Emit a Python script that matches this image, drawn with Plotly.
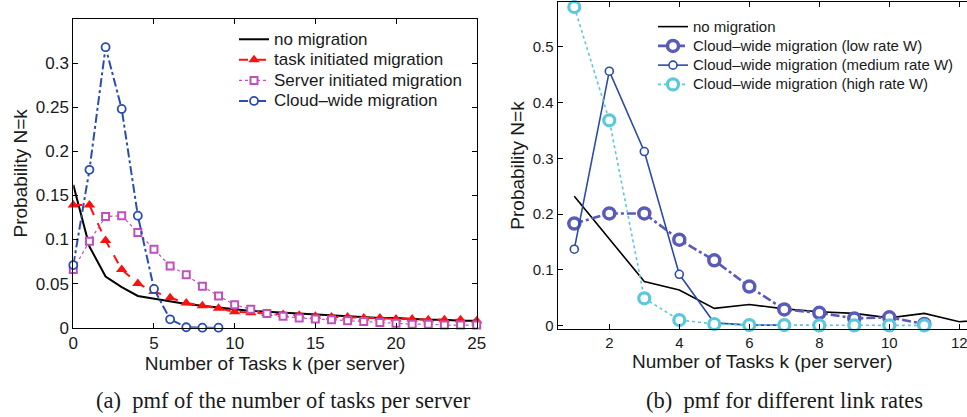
import plotly.graph_objects as go

# (a) pmf of the number of tasks per server
K_A = list(range(0, 26))
NO_MIG_A = [0.162, 0.092, 0.058, 0.046, 0.036, 0.033, 0.030, 0.027, 0.025, 0.023,
            0.021, 0.019, 0.018, 0.017, 0.016, 0.015, 0.014, 0.013, 0.012, 0.011,
            0.011, 0.010, 0.009, 0.009, 0.008, 0.008]
TASK_MIG = [0.139, 0.139, 0.099, 0.066, 0.050, 0.041, 0.034, 0.028, 0.025, 0.022,
            0.018, 0.017, 0.016, 0.015, 0.014, 0.013, 0.012, 0.012, 0.011, 0.011,
            0.010, 0.010, 0.009, 0.009, 0.009, 0.008]
SERVER_MIG = [0.066, 0.098, 0.126, 0.127, 0.108, 0.089, 0.070, 0.060, 0.047, 0.036,
              0.026, 0.021, 0.016, 0.013, 0.011, 0.010, 0.009, 0.008, 0.007, 0.006,
              0.005, 0.004, 0.004, 0.003, 0.003, 0.003]
K_CLOUD = list(range(0, 10))
CLOUD_MIG = [0.071, 0.179, 0.318, 0.248, 0.127, 0.044, 0.0095, 0.0005, 0.0, 0.0]

# (b) pmf for different link rates
K_B = list(range(1, 14))
NO_MIG_B = [0.232, 0.155, 0.079, 0.064, 0.031, 0.038, 0.030, 0.025, 0.022, 0.014,
            0.022, 0.007, 0.012]
K_LOW = list(range(1, 12))
LOW_W = [0.183, 0.201, 0.201, 0.154, 0.117, 0.070, 0.029, 0.023, 0.013, 0.015, 0.003]
K_MED = list(range(1, 8))
MED_W = [0.137, 0.456, 0.312, 0.092, 0.005, 0.001, 0.001]
K_HIGH = list(range(1, 12))
HIGH_W = [0.571, 0.368, 0.049, 0.010, 0.003, 0.001, 0.001, 0.0005, 0.0005, 0.0005, 0.0005]

W, H = 967, 417
FONT = 'Liberation Sans'


def px_x(p):
    return p / W


def px_y(p):
    return (H - p) / H


def lg(text, size):
    # legend rows are packed tighter than plotly's default, so the legend font is
    # small and the visible text is enlarged here
    return f'<span style="font-size:{size}px">{text}</span>'


fig = go.Figure()

# --- left plot ---
fig.add_trace(go.Scatter(x=K_A, y=NO_MIG_A, name=lg('no migration', 17), mode='lines',
                         line=dict(color='black', width=2), legend='legend'))
fig.add_trace(go.Scatter(x=K_A, y=TASK_MIG, name=lg('task initiated migration', 17),
                         mode='lines+markers',
                         line=dict(color='#ff1010', width=2, dash='dash'),
                         marker=dict(symbol='triangle-up', size=10, color='#ff1010'),
                         legend='legend'))
fig.add_trace(go.Scatter(x=K_A, y=SERVER_MIG, name=lg('Server initiated migration', 17),
                         mode='lines+markers',
                         line=dict(color='#c050c0', width=1.2, dash='dot'),
                         marker=dict(symbol='square', size=7, color='white',
                                     line=dict(color='#c050c0', width=2)),
                         legend='legend'))
fig.add_trace(go.Scatter(x=K_CLOUD, y=CLOUD_MIG, name=lg('Cloud\u2013wide migration', 17),
                         mode='lines+markers',
                         line=dict(color='#2a4db0', width=2, dash='dashdot'),
                         marker=dict(symbol='circle', size=8, color='white',
                                     line=dict(color='#2a4db0', width=1.8)),
                         legend='legend'))

# --- right plot ---
fig.add_trace(go.Scatter(x=K_B, y=NO_MIG_B, name=lg('no migration', 15), mode='lines',
                         line=dict(color='black', width=1.6),
                         xaxis='x2', yaxis='y2', legend='legend2'))
fig.add_trace(go.Scatter(x=K_LOW, y=LOW_W, name=lg('Cloud\u2013wide migration (low rate W)', 15),
                         mode='lines+markers',
                         line=dict(color='#5a5ab8', width=2.6, dash='dashdot'),
                         marker=dict(symbol='circle', size=11, color='white',
                                     line=dict(color='#5a5ab8', width=3.5)),
                         xaxis='x2', yaxis='y2', legend='legend2'))
fig.add_trace(go.Scatter(x=K_MED, y=MED_W, name=lg('Cloud\u2013wide migration (medium rate W)', 15),
                         mode='lines+markers',
                         line=dict(color='#2b4ca8', width=1.6),
                         marker=dict(symbol='circle', size=8, color='white',
                                     line=dict(color='#2b4ca8', width=1.6)),
                         xaxis='x2', yaxis='y2', legend='legend2'))
fig.add_trace(go.Scatter(x=K_HIGH, y=HIGH_W, name=lg('Cloud\u2013wide migration (high rate W)', 15),
                         mode='lines+markers',
                         line=dict(color='#5cc8dc', width=1.6, dash='dot'),
                         marker=dict(symbol='circle', size=11, color='white',
                                     line=dict(color='#5cc8dc', width=3.2)),
                         xaxis='x2', yaxis='y2', legend='legend2'))

fig.update_traces(cliponaxis=False)

axis_common = dict(showline=True, linecolor='black', linewidth=1, ticks='inside',
                   ticklen=5, tickcolor='black', showgrid=False, zeroline=False,
                   automargin=False, ticklabeloverflow='allow')

fig.update_layout(
    width=W, height=H,
    margin=dict(l=0, r=0, t=0, b=0),
    paper_bgcolor='white', plot_bgcolor='white',
    font=dict(family=FONT, color='#1a1a1a'),
    xaxis=dict(domain=[px_x(73.3), px_x(476.7)], range=[0, 25], tickvals=[0, 5, 10, 15, 20, 25],
               mirror='ticks', anchor='y', tickfont=dict(size=17),
               title=dict(text='Number of Tasks k (per server)', font=dict(size=19), standoff=3),
               **axis_common),
    yaxis=dict(domain=[px_y(327.7), px_y(19)], range=[0, 0.35],
               tickvals=[0, 0.05, 0.1, 0.15, 0.2, 0.25, 0.3], mirror='ticks', anchor='x',
               tickfont=dict(size=17),
               title=dict(text='Probability N=k', font=dict(size=19), standoff=3),
               **axis_common),
    xaxis2=dict(domain=[px_x(557.5), 1.0], range=[0.52, 12.22], tickvals=[2, 4, 6, 8, 10, 12],
                mirror='ticks', anchor='y2', tickfont=dict(size=15),
                title=dict(text='Number of Tasks k (per server)', font=dict(size=19), standoff=4),
                **axis_common),
    yaxis2=dict(domain=[px_y(329), px_y(2)], range=[-0.006, 0.58],
                tickvals=[0, 0.1, 0.2, 0.3, 0.4, 0.5], anchor='x2', tickfont=dict(size=15),
                title=dict(text='Probability N=k', font=dict(size=19), standoff=2),
                **axis_common),
    legend=dict(x=px_x(234), y=px_y(24), xanchor='left', yanchor='top',
                bgcolor='rgba(0,0,0,0)', font=dict(size=13.5), tracegroupgap=0),
    legend2=dict(x=px_x(653), y=px_y(12), xanchor='left', yanchor='top',
                 bgcolor='rgba(0,0,0,0)', font=dict(size=12.5), tracegroupgap=0),
    annotations=[
        dict(text='(a)  pmf of the number of tasks per server', x=px_x(283), y=px_y(400),
             xref='paper', yref='paper', xanchor='center', yanchor='middle', showarrow=False,
             font=dict(family='Liberation Serif', size=22.5, color='#1a1a1a')),
        dict(text='(b)  pmf for different link rates', x=px_x(784), y=px_y(400),
             xref='paper', yref='paper', xanchor='center', yanchor='middle', showarrow=False,
             font=dict(family='Liberation Serif', size=22.5, color='#1a1a1a')),
    ],
)

fig.write_html('out.html', config={'displayModeBar': False},
               post_script="document.body.style.margin='0';")
